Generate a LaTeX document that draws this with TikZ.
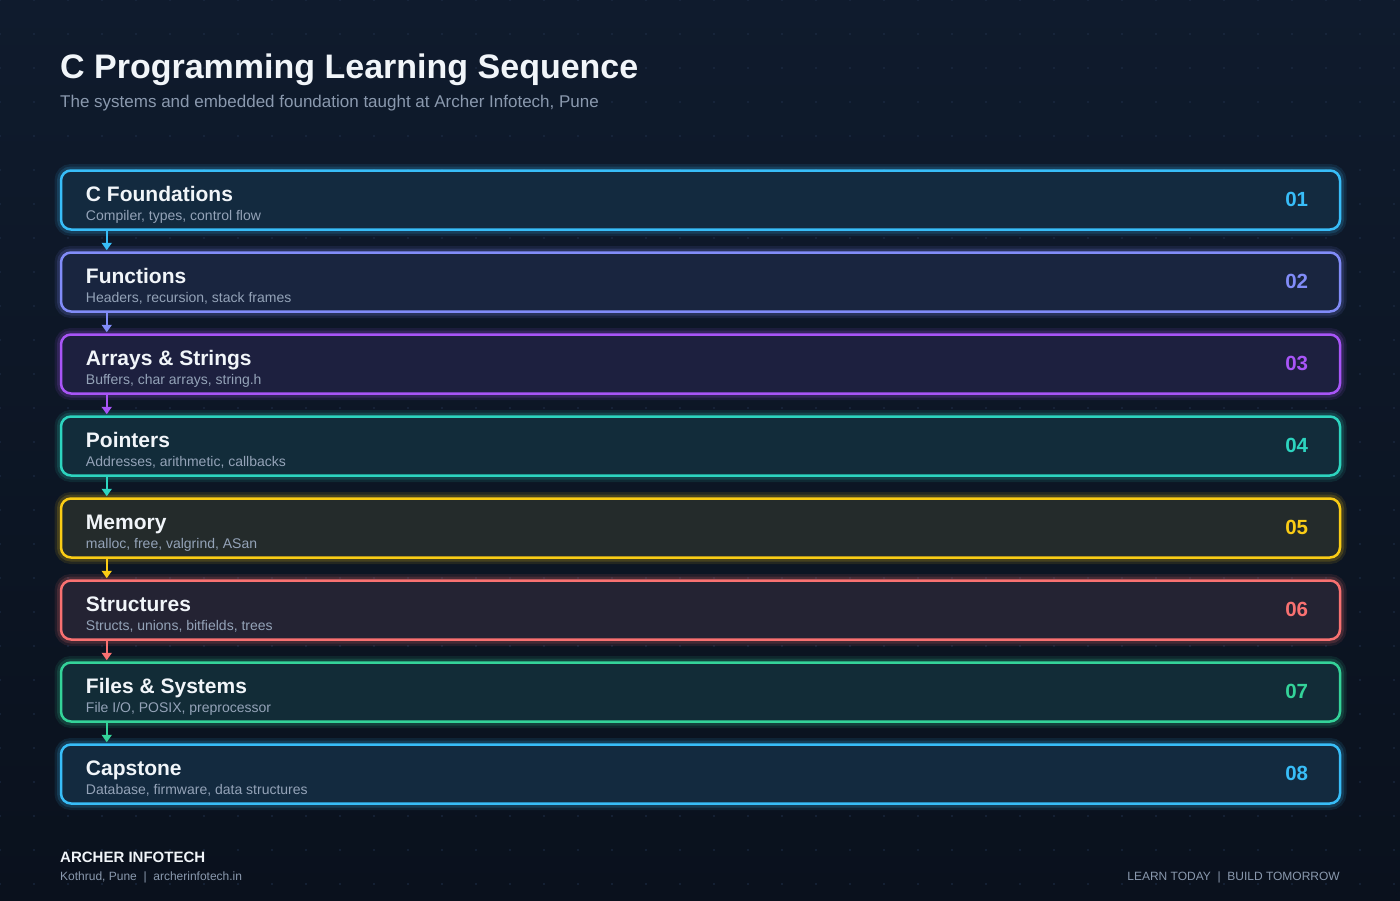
\documentclass[tikz,border=0pt]{standalone}
\usepackage{fontspec}
\setmainfont{Liberation Sans}
\usetikzlibrary{arrows.meta}

\definecolor{bgtop}{HTML}{0F1B2D}
\definecolor{bgbot}{HTML}{0A111D}
\definecolor{dotc}{HTML}{20304A}
\definecolor{ink}{HTML}{F1F5F9}
\definecolor{muted}{HTML}{94A3B8}
\definecolor{dim}{HTML}{8A99AE}
\definecolor{cblue}{HTML}{38BDF8}
\definecolor{cindigo}{HTML}{818CF8}
\definecolor{cpurple}{HTML}{A855F7}
\definecolor{cteal}{HTML}{2DD4BF}
\definecolor{cyellow}{HTML}{FACC15}
\definecolor{cred}{HTML}{F87171}
\definecolor{cgreen}{HTML}{34D399}

\begin{document}
\begin{tikzpicture}[x=1pt,y=-1pt,>={Triangle[length=7.5pt,width=10pt]},
  stage/.style={draw=#1,fill=#1!9!bgtop,line width=2.5pt,rounded corners=10pt,
    minimum width=1279pt,minimum height=59pt,inner sep=0pt,
    preaction={draw=#1,draw opacity=0.10,line width=13pt},
    preaction={draw=#1,draw opacity=0.16,line width=8pt}},
  num/.style={text=#1,anchor=east,inner sep=0pt,font=\bfseries\fontsize{20.5}{24}\selectfont},
  flow/.style={->,draw=#1,fill=#1,line width=1.8pt,shorten >=1pt}]
\tikzstyle{head}=[anchor=base west,inner sep=0pt,text=ink,font=\bfseries\fontsize{21}{24}\selectfont]
\tikzstyle{note}=[anchor=base west,inner sep=0pt,text=muted,font=\fontsize{14}{17}\selectfont]
\tikzstyle{foot}=[inner sep=0pt,text=dim,font=\fontsize{12}{14}\selectfont]

\useasboundingbox (0,0) rectangle (1400,900);
\shade[top color=bgtop,bottom color=bgbot] (0,0) rectangle (1400,900);
\foreach \i in {0,...,41}
  \foreach \j in {0,...,26}
    \fill[dotc] (34*\i,34*\j) circle (0.8pt);

\node[anchor=base west,inner sep=0pt,text=ink,font=\bfseries\fontsize{34}{40}\selectfont] (TT) at (60,78.5) {C Programming Learning Sequence};
\node[anchor=base west,inner sep=0pt,text=dim,font=\fontsize{17}{20}\selectfont] (ST) at (60,107) {The systems and embedded foundation taught at Archer Infotech, Pune};

% stages
\node[stage=cblue] (CF) at (700.5,200) {};
\node[head] (CFh) at ([xshift=26pt,yshift=-1.5pt]CF.west) {C Foundations};
\node[note] (CFn) at ([xshift=26pt,yshift=-20pt]CF.west) {Compiler, types, control flow};
\node[num=cblue] (CFk) at ([xshift=-33pt,yshift=0.5pt]CF.east) {01};

\node[stage=cindigo] (FN) at (700.5,282) {};
\node[head] (FNh) at ([xshift=26pt,yshift=-1.5pt]FN.west) {Functions};
\node[note] (FNn) at ([xshift=26pt,yshift=-20pt]FN.west) {Headers, recursion, stack frames};
\node[num=cindigo] (FNk) at ([xshift=-33pt,yshift=0.5pt]FN.east) {02};

\node[stage=cpurple] (AS) at (700.5,364) {};
\node[head] (ASh) at ([xshift=26pt,yshift=-1.5pt]AS.west) {Arrays \& Strings};
\node[note] (ASn) at ([xshift=26pt,yshift=-20pt]AS.west) {Buffers, char arrays, string.h};
\node[num=cpurple] (ASk) at ([xshift=-33pt,yshift=0.5pt]AS.east) {03};

\node[stage=cteal] (PT) at (700.5,446) {};
\node[head] (PTh) at ([xshift=26pt,yshift=-1.5pt]PT.west) {Pointers};
\node[note] (PTn) at ([xshift=26pt,yshift=-20pt]PT.west) {Addresses, arithmetic, callbacks};
\node[num=cteal] (PTk) at ([xshift=-33pt,yshift=0.5pt]PT.east) {04};

\node[stage=cyellow] (MM) at (700.5,528) {};
\node[head] (MMh) at ([xshift=26pt,yshift=-1.5pt]MM.west) {Memory};
\node[note] (MMn) at ([xshift=26pt,yshift=-20pt]MM.west) {malloc, free, valgrind, ASan};
\node[num=cyellow] (MMk) at ([xshift=-33pt,yshift=0.5pt]MM.east) {05};

\node[stage=cred] (SU) at (700.5,610) {};
\node[head] (SUh) at ([xshift=26pt,yshift=-1.5pt]SU.west) {Structures};
\node[note] (SUn) at ([xshift=26pt,yshift=-20pt]SU.west) {Structs, unions, bitfields, trees};
\node[num=cred] (SUk) at ([xshift=-33pt,yshift=0.5pt]SU.east) {06};

\node[stage=cgreen] (FS) at (700.5,692) {};
\node[head] (FSh) at ([xshift=26pt,yshift=-1.5pt]FS.west) {Files \& Systems};
\node[note] (FSn) at ([xshift=26pt,yshift=-20pt]FS.west) {File I/O, POSIX, preprocessor};
\node[num=cgreen] (FSk) at ([xshift=-33pt,yshift=0.5pt]FS.east) {07};

\node[stage=cblue] (CP) at (700.5,774) {};
\node[head] (CPh) at ([xshift=26pt,yshift=-1.5pt]CP.west) {Capstone};
\node[note] (CPn) at ([xshift=26pt,yshift=-20pt]CP.west) {Database, firmware, data structures};
\node[num=cblue] (CPk) at ([xshift=-33pt,yshift=0.5pt]CP.east) {08};

% links
\draw[flow=cblue] ([xshift=47pt]CF.south west) -- ([xshift=47pt]FN.north west);
\draw[flow=cindigo] ([xshift=47pt]FN.south west) -- ([xshift=47pt]AS.north west);
\draw[flow=cpurple] ([xshift=47pt]AS.south west) -- ([xshift=47pt]PT.north west);
\draw[flow=cteal] ([xshift=47pt]PT.south west) -- ([xshift=47pt]MM.north west);
\draw[flow=cyellow] ([xshift=47pt]MM.south west) -- ([xshift=47pt]SU.north west);
\draw[flow=cred] ([xshift=47pt]SU.south west) -- ([xshift=47pt]FS.north west);
\draw[flow=cgreen] ([xshift=47pt]FS.south west) -- ([xshift=47pt]CP.north west);

% footer
\node[anchor=base west,inner sep=0pt,text=ink,font=\bfseries\fontsize{15}{18}\selectfont] (BR) at (60,862) {ARCHER INFOTECH};
\node[foot,anchor=base west] (AD) at (60,880) {Kothrud, Pune\ \ |\ \ archerinfotech.in};
\node[foot,anchor=base east] (TG) at (1340,880) {LEARN TODAY\ \ |\ \ BUILD TOMORROW};
\end{tikzpicture}
\end{document}
